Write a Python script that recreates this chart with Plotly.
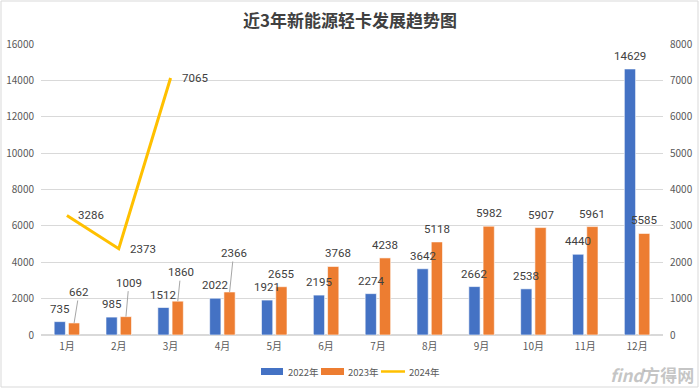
import plotly.graph_objects as go

months = ["1月", "2月", "3月", "4月", "5月", "6月", "7月", "8月", "9月", "10月", "11月", "12月"]
sales_2022 = [735, 985, 1512, 2022, 1921, 2195, 2274, 3642, 2662, 2538, 4440, 14629]
sales_2023 = [662, 1009, 1860, 2366, 2655, 3768, 4238, 5118, 5982, 5907, 5961, 5585]
months_2024 = ["1月", "2月", "3月"]
sales_2024 = [3286, 2373, 7065]
series_names = ["2022年", "2023年", "2024年"]
left_ticks = list(range(0, 16001, 2000))
right_ticks = list(range(0, 8001, 1000))

# label offsets for 2023 labels with leader lines (pixel offsets)
leader_2023 = {0: (5, -31), 1: (3, -34), 2: (3, -29), 3: (4, -39)}

BLUE = "#4472C4"
ORANGE = "#ED7D31"
GOLD = "#FFC000"
LABEL_FONT = dict(family="Roboto, sans-serif", size=11.5, color="#404040")
TICK_FONT = dict(family="Noto Sans CJK SC, sans-serif", size=10, color="#595959")

fig = go.Figure()
fig.add_trace(go.Bar(name=series_names[0], x=months, y=sales_2022,
                     marker=dict(color=BLUE, line=dict(color="white", width=0.6))))
fig.add_trace(go.Bar(name=series_names[1], x=months, y=sales_2023,
                     marker=dict(color=ORANGE, line=dict(color="white", width=0.6))))
fig.add_trace(go.Scatter(name=series_names[2], x=months_2024, y=sales_2024, yaxis="y2", mode="lines",
                         line=dict(color=GOLD, width=3)))

ann = []
for i, (m, v) in enumerate(zip(months, sales_2022)):
    ann.append(dict(x=m, y=v, xref="x", yref="y", text=str(v), showarrow=False,
                    xshift=-7.2, yshift=13, font=LABEL_FONT))
for i, (m, v) in enumerate(zip(months, sales_2023)):
    if i in leader_2023:
        dx, dy = leader_2023[i]
        ann.append(dict(x=m, y=v, xref="x", yref="y", text=str(v), showarrow=True,
                        ax=dx, ay=dy, arrowhead=0, arrowwidth=1, arrowcolor="#A6A6A6",
                        xshift=7.2, font=LABEL_FONT, standoff=0))
    else:
        dx = 5 if i == 5 else 0
        ann.append(dict(x=m, y=v, xref="x", yref="y", text=str(v), showarrow=False,
                        xshift=7.2 + dx, yshift=13, font=LABEL_FONT))
for m, v in zip(months_2024, sales_2024):
    ann.append(dict(x=m, y=v, xref="x", yref="y2", text=str(v), showarrow=False,
                    xanchor="left", xshift=9, font=LABEL_FONT))

W, H = 700, 389
ML, MR, MT, MB = 41, 37, 44, 54
plot_w = W - ML - MR
plot_h = H - MT - MB


def px(x):
    return (x - ML) / plot_w


def py(y):
    return (H - MB - y) / plot_h


ann.append(dict(x=px(696), y=py(374), xref="paper", yref="paper", text="<b><i>find</i>方得网</b>",
                showarrow=False, xanchor="right", yanchor="middle",
                font=dict(family="Noto Sans CJK SC, sans-serif", size=17, color="rgba(140,140,140,0.5)")))

shapes = [dict(type="rect", xref="paper", yref="paper",
               x0=px(1), x1=px(698), y0=py(387), y1=py(1),
               line=dict(color="#D9D9D9", width=1), fillcolor="rgba(0,0,0,0)", layer="below")]

# custom legend (Excel-style wide swatches)
LEG_FONT = dict(family="Noto Sans CJK SC, sans-serif", size=9.5, color="#595959")
leg_y = 371.5
shapes.append(dict(type="rect", xref="paper", yref="paper", x0=px(261), x1=px(283),
                   y0=py(375), y1=py(368), fillcolor=BLUE, line=dict(width=0)))
shapes.append(dict(type="rect", xref="paper", yref="paper", x0=px(321), x1=px(344),
                   y0=py(375), y1=py(368), fillcolor=ORANGE, line=dict(width=0)))
shapes.append(dict(type="line", xref="paper", yref="paper", x0=px(381), x1=px(405),
                   y0=py(leg_y), y1=py(leg_y), line=dict(color=GOLD, width=2.5)))
for name, x_left in zip(series_names, [286, 346, 407]):
    ann.append(dict(x=px(x_left), y=py(leg_y), xref="paper", yref="paper", text=name, showarrow=False,
                    xanchor="left", yanchor="middle", font=LEG_FONT))

fig.update_layout(
    width=W, height=H,
    margin=dict(l=ML, r=MR, t=MT, b=MB, autoexpand=False),
    paper_bgcolor="white", plot_bgcolor="white",
    title=dict(text="<b>近3年新能源轻卡发展趋势图</b>", x=0.5, xanchor="center", y=0.945, yanchor="middle",
               font=dict(family="Noto Sans CJK SC, sans-serif", size=17, color="#404040")),
    barmode="group", bargap=0.45, bargroupgap=0.21,
    xaxis=dict(tickfont=TICK_FONT, showgrid=False, showline=False, ticks="", ticklabelstandoff=4,
               automargin=False),
    yaxis=dict(range=[0, 16000], tickvals=left_ticks, ticktext=[str(t) for t in left_ticks],
               tickfont=TICK_FONT, gridcolor="#D9D9D9", automargin=False,
               zeroline=True, zerolinecolor="#D9D9D9", showline=False, ticks="", ticklabelstandoff=6),
    yaxis2=dict(range=[0, 8000], tickvals=right_ticks, ticktext=[str(t) for t in right_ticks],
                tickfont=TICK_FONT, overlaying="y", side="right", automargin=False,
                showgrid=False, zeroline=False, showline=False, ticks="", ticklabelstandoff=6),
    annotations=ann, shapes=shapes,
    showlegend=False,
)
fig.write_html("out.html", config={"displayModeBar": False},
               post_script="document.body.style.margin='0';")
